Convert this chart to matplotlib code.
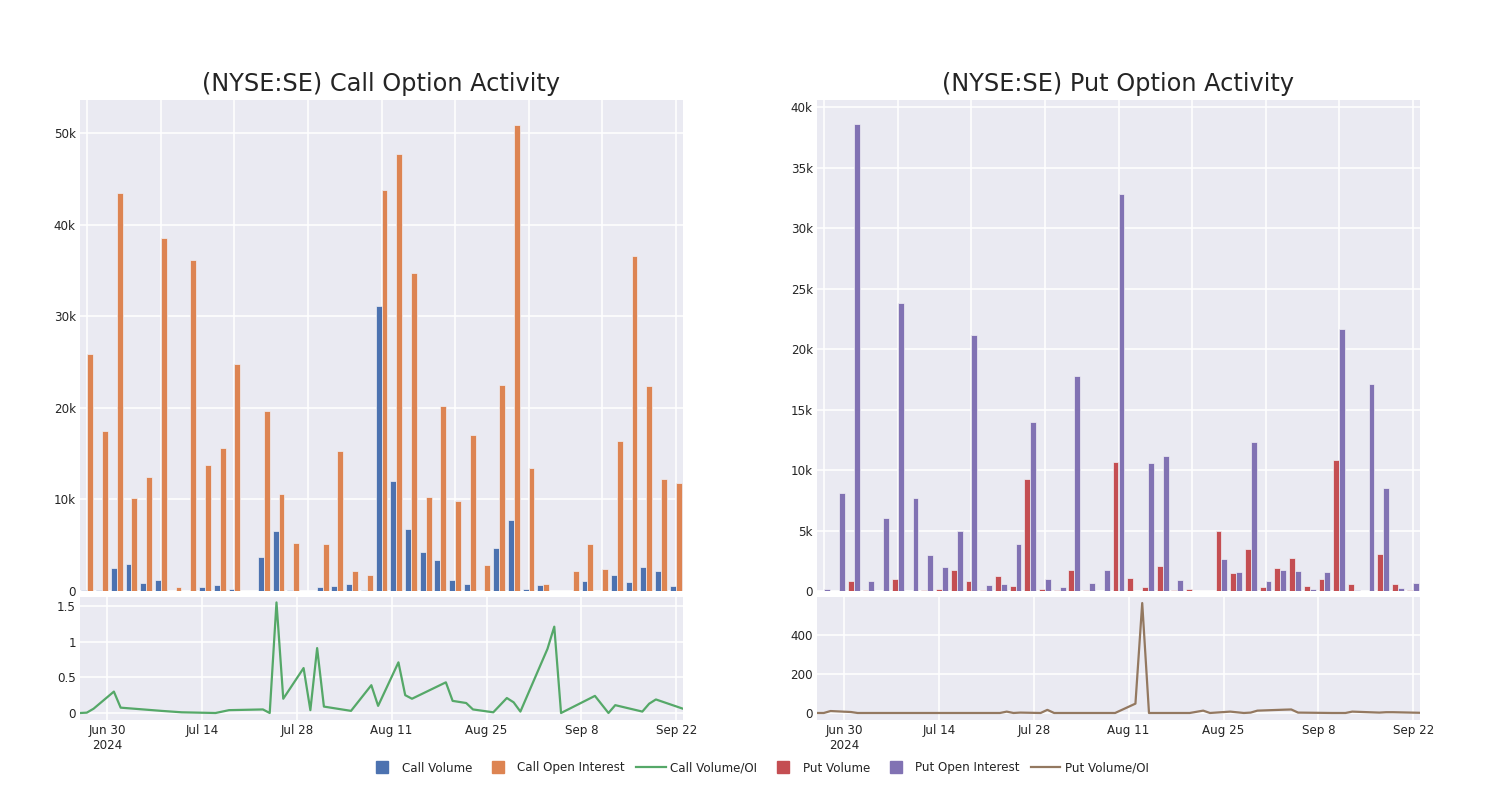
import datetime as dt
import matplotlib
matplotlib.use('Agg')
import matplotlib.pyplot as plt
from matplotlib.lines import Line2D

# trade dates (one bar pair per date)
dates = ['2024-06-26', '2024-06-27', '2024-06-28', '2024-07-01', '2024-07-02', '2024-07-08',
         '2024-07-11', '2024-07-16', '2024-07-18', '2024-07-23', '2024-07-24', '2024-07-25',
         '2024-07-26', '2024-07-29', '2024-07-30', '2024-07-31', '2024-08-01', '2024-08-05',
         '2024-08-08', '2024-08-09', '2024-08-12', '2024-08-13', '2024-08-14', '2024-08-19',
         '2024-08-20', '2024-08-22', '2024-08-23', '2024-08-26', '2024-08-28', '2024-08-29',
         '2024-08-30', '2024-09-03', '2024-09-04', '2024-09-05', '2024-09-10', '2024-09-12',
         '2024-09-13', '2024-09-17', '2024-09-18', '2024-09-19', '2024-09-23']

# values in thousands
call_volume = [0.1, 0.1, 2.5, 3.0, 0.9, 1.2, 0, 0, 0.4, 0.7, 0.2, 0.05, 3.7, 6.6, 0.15, 0.05,
               0.4, 0.5, 0.8, 0.15, 31.1, 12.0, 6.8, 4.3, 3.4, 1.2, 0.8, 0, 4.7, 7.8, 0.2, 0.7,
               0.02, 0, 1.1, 0, 1.8, 1.0, 2.6, 2.2, 0.6]
call_oi = [25.9, 17.5, 43.4, 10.1, 12.4, 38.5, 0.4, 36.1, 13.8, 15.6, 24.8, 0.05, 19.6, 10.6,
           5.2, 0.05, 5.1, 15.3, 2.2, 1.8, 43.8, 47.7, 34.7, 10.3, 20.2, 9.8, 17.0, 2.8, 22.5,
           50.9, 13.4, 0.8, 0.02, 2.2, 5.1, 2.4, 16.4, 36.6, 22.4, 12.2, 11.8]
call_ratio = [0.0, 0.005, 0.06, 0.30, 0.075, 0.03, 0.01, 0.0, 0.04, 0.05, 0.0, 1.55, 0.2, 0.63,
              0.04, 0.91, 0.09, 0.03, 0.39, 0.10, 0.71, 0.25, 0.2, 0.43, 0.17, 0.14, 0.05, 0.01,
              0.21, 0.15, 0.02, 0.9, 1.21, 0.0, 0.24, 0.0, 0.11, 0.02, 0.13, 0.19, 0.06]

put_volume = [0.0, 0.02, 0.8, 0.1, 0.0, 1.0, 0.0, 0.1, 0.15, 1.7, 0.8, 0.1, 1.2, 0.4, 9.3, 0.15,
              0.1, 1.7, 0.1, 0.02, 10.7, 1.05, 0.36, 2.1, 0.05, 0.2, 0.0, 5.0, 1.45, 3.5, 0.36,
              1.93, 2.76, 0.39, 1.02, 10.8, 0.55, 0.01, 3.1, 0.55, 0.1]
put_oi = [0.2, 8.1, 38.6, 0.8, 6.0, 23.8, 7.7, 3.0, 2.0, 5.0, 21.2, 0.5, 0.6, 3.9, 14.0, 1.0,
          0.35, 17.8, 0.65, 1.7, 32.8, 0.0, 10.6, 11.2, 0.9, 0.02, 0.02, 2.65, 1.55, 12.35, 0.83,
          1.77, 1.63, 0.19, 1.57, 21.7, 0.11, 17.1, 8.5, 0.28, 0.66]
put_ratio = [0, 0, 10, 5, 0, 0, 0, 0, 0, 0, 7, 0, 2, 0, 16, 0, 0, 0, 0, 0, 48, 564, 0, 0, 0, 12,
             0, 7, 0, 2, 12, 17, 18, 2, 0, 0, 7, 2, 4, 4, 1]

call_yticks = [0, 10, 20, 30, 40, 50]
call_ylabels = ['0', '10k', '20k', '30k', '40k', '50k']
put_yticks = [0, 5, 10, 15, 20, 25, 30, 35, 40]
put_ylabels = ['0', '5k', '10k', '15k', '20k', '25k', '30k', '35k', '40k']
date_ticks = ['2024-06-30', '2024-07-14', '2024-07-28', '2024-08-11', '2024-08-25',
              '2024-09-08', '2024-09-22']
date_labels = ['Jun 30\n2024', 'Jul 14', 'Jul 28', 'Aug 11', 'Aug 25', 'Sep 8', 'Sep 22']

BG = '#EAEAF2'
TXT = '#242424'
c_blue, c_orange, c_green = '#4C72B0', '#DD8452', '#55A868'
c_red, c_purple, c_brown = '#C44E52', '#8172B3', '#937860'

W, H = 1500, 800
fig = plt.figure(figsize=(15, 8), dpi=100, facecolor='white')


def px_axes(x0, y0, x1, y1):
    return fig.add_axes([x0 / W, 1 - y1 / H, (x1 - x0) / W, (y1 - y0) / H])


def style(ax):
    ax.set_facecolor(BG)
    for s in ax.spines.values():
        s.set_visible(False)
    ax.grid(True, color='white', linewidth=1.1)
    ax.set_axisbelow(True)
    ax.tick_params(length=0, labelsize=8.6, labelcolor=TXT, pad=3)


d = [dt.datetime.strptime(s, '%Y-%m-%d') for s in dates]
dticks = [dt.datetime.strptime(s, '%Y-%m-%d') for s in date_ticks]
idx = list(range(len(dates)))


def bar_panel(ax, vol, oi, cv, co, ymax, yticks, ylabels):
    style(ax)
    ax.bar([i - 0.2 for i in idx], vol, width=0.4, color=cv, edgecolor='#F0F0F5', linewidth=0.5)
    ax.bar([i + 0.2 for i in idx], oi, width=0.4, color=co, edgecolor='#F0F0F5', linewidth=0.5)
    ax.set_xlim(-0.5, len(dates) - 0.5)
    ax.set_xticks(idx[::5])
    ax.set_xticklabels([])
    ax.set_ylim(0, ymax)
    ax.set_yticks(yticks)
    ax.set_yticklabels(ylabels)


def line_panel(ax, vals, col, ylim, yticks, ylabels):
    style(ax)
    ax.plot(d, vals, color=col, linewidth=1.6)
    ax.set_xlim(d[0], d[-1])
    ax.set_xticks(dticks)
    ax.set_xticklabels(date_labels)
    ax.set_ylim(*ylim)
    ax.set_yticks(yticks)
    ax.set_yticklabels(ylabels)


# call side
ax1 = px_axes(80, 100, 683, 591)
bar_panel(ax1, call_volume, call_oi, c_blue, c_orange, 53.6, call_yticks, call_ylabels)
ax2 = px_axes(80, 597, 683, 720)
line_panel(ax2, call_ratio, c_green, (-0.098, 1.626), [0, 0.5, 1, 1.5], ['0', '0.5', '1', '1.5'])

# put side
ax3 = px_axes(817, 100, 1420, 591)
bar_panel(ax3, put_volume, put_oi, c_red, c_purple, 40.6, put_yticks, put_ylabels)
ax4 = px_axes(817, 597, 1420, 720)
line_panel(ax4, put_ratio, c_brown, (-36, 595), [0, 200, 400], ['0', '200', '400'])

fig.text(381.5 / W, 1 - 84 / H, '(NYSE:SE) Call Option Activity', ha='center', va='center',
         fontsize=17.3, color=TXT)
fig.text(1118.5 / W, 1 - 84 / H, '(NYSE:SE) Put Option Activity', ha='center', va='center',
         fontsize=17.3, color=TXT)

handles = [
    Line2D([], [], marker='s', linestyle='none', markersize=9, color=c_blue),
    Line2D([], [], marker='s', linestyle='none', markersize=9, color=c_orange),
    Line2D([], [], color=c_green, linewidth=1.6),
    Line2D([], [], marker='s', linestyle='none', markersize=9, color=c_red),
    Line2D([], [], marker='s', linestyle='none', markersize=9, color=c_purple),
    Line2D([], [], color=c_brown, linewidth=1.6),
]
labels = ['Call Volume', 'Call Open Interest', 'Call Volume/OI', 'Put Volume',
          'Put Open Interest', 'Put Volume/OI']
leg = fig.legend(handles, labels, loc='center', bbox_to_anchor=(758 / W, 1 - 768 / H), ncol=6,
                 frameon=False, fontsize=8.6, handlelength=2.5, handletextpad=0.4,
                 columnspacing=0.9)
for t in leg.get_texts():
    t.set_color(TXT)

fig.savefig('out.png', dpi=100, facecolor='white')
